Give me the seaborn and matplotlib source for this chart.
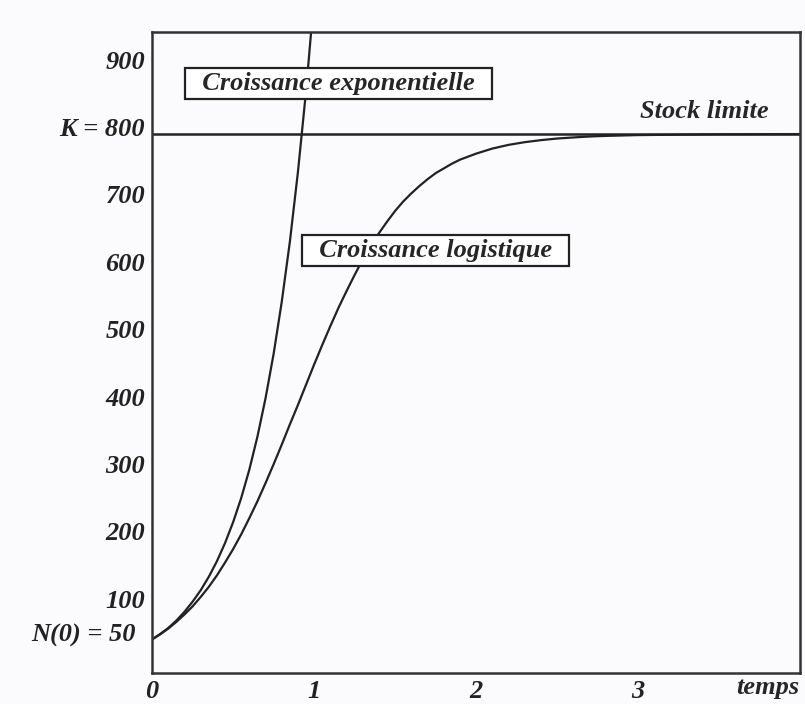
import matplotlib
matplotlib.use("Agg")
import matplotlib.pyplot as plt
import matplotlib.transforms as mtransforms
import seaborn as sns
import pandas as pd

# valeurs
t_exp = [0.0, 0.05, 0.1, 0.15, 0.2, 0.25, 0.3, 0.35, 0.4, 0.45, 0.5, 0.55, 0.6, 0.65,
         0.7, 0.75, 0.8, 0.85, 0.9, 0.95, 1.0]
n_exp = [50, 58, 67, 78, 91, 106, 123, 143, 166, 193, 224, 260, 302, 351,
         408, 474, 551, 640, 744, 864, 1004]

t_log = [0.0, 0.05, 0.1, 0.15, 0.2, 0.25, 0.3, 0.35, 0.4, 0.45, 0.5, 0.55, 0.6, 0.65,
         0.7, 0.75, 0.8, 0.85, 0.9, 0.95, 1.0, 1.05, 1.1, 1.15, 1.2, 1.25, 1.3, 1.35,
         1.4, 1.45, 1.5, 1.55, 1.6, 1.65, 1.7, 1.75, 1.8, 1.85, 1.9, 2.0, 2.1, 2.2,
         2.3, 2.4, 2.5, 2.6, 2.7, 2.8, 3.0, 3.5, 4.0]
n_log = [50, 57.5, 66, 76, 87, 99, 113, 128, 145, 164, 184, 206, 230, 255,
         282, 310, 339, 369, 398, 428, 458, 487, 515, 542, 567, 591, 614, 634,
         653, 670, 686, 700, 712, 723, 733, 742, 749, 756, 762, 771, 778.5, 784,
         788, 791, 793.4, 795, 796.4, 797.3, 798.5, 799.7, 800]

K = 800
y_ticks = [50, 100, 200, 300, 400, 500, 600, 700, 800, 900]
y_labels = ["N(0) = 50", "100", "200", "300", "400", "500", "600", "700", "K = 800", "900"]
x_ticks = [0, 1, 2, 3]

sns.set_style("white")
plt.rcParams['font.family'] = ['Liberation Serif', 'DejaVu Serif']
plt.rcParams['font.weight'] = 'bold'
plt.rcParams['font.style'] = 'italic'

FS = 19
bg = "#fbfbfd"
fig = plt.figure(figsize=(8.05, 7.04), dpi=100, facecolor=bg)
ax = fig.add_axes([0.189, 0.044, 0.805, 0.911])
ax.set_facecolor(bg)

df_exp = pd.DataFrame({"t": t_exp, "N": n_exp})
df_log = pd.DataFrame({"t": t_log, "N": n_log})
sns.lineplot(data=df_exp, x="t", y="N", ax=ax, color="#222222", lw=1.6)
sns.lineplot(data=df_log, x="t", y="N", ax=ax, color="#222222", lw=1.6)
ax.axhline(K, color="#222222", lw=1.8)

ax.set_xlim(0, 4)
ax.set_ylim(0, 952)
ax.set_xlabel("")
ax.set_ylabel("")

ax.set_yticks(y_ticks)
ax.set_yticklabels(y_labels)
ax.set_xticks(x_ticks)
ax.tick_params(axis='both', direction='inout', length=6, width=1.5,
               labelsize=FS, colors="#222222", pad=2)
ax.yaxis.get_major_ticks()[0].tick1line.set_visible(False)
shift = mtransforms.ScaledTranslation(0, 7 / 100, fig.dpi_scale_trans)
shift_n0 = mtransforms.ScaledTranslation(-9 / 100, 0, fig.dpi_scale_trans)
for i, lab in enumerate(ax.get_yticklabels()):
    tr = lab.get_transform() + shift
    if i == 0:
        tr = tr + shift_n0
    lab.set_transform(tr)
    lab.set_fontweight('bold')
    lab.set_fontstyle('italic')
for lab in ax.get_xticklabels():
    lab.set_fontweight('bold')
    lab.set_fontstyle('italic')

for s in ax.spines.values():
    s.set_color("#333333")
    s.set_linewidth(1.8)

box = dict(boxstyle='square,pad=0.15', fc='white', ec='#222222', lw=1.6)
ax.text(1.15, 875, "  Croissance exponentielle  ", ha='center', va='center',
        fontsize=FS, fontweight='bold', fontstyle='italic', bbox=box, zorder=5)
ax.text(1.75, 627, "  Croissance logistique  ", ha='center', va='center',
        fontsize=FS, fontweight='bold', fontstyle='italic', bbox=box, zorder=5)
ax.text(3.41, 834, "Stock limite", ha='center', va='center',
        fontsize=FS, fontweight='bold', fontstyle='italic')
ax.text(3.8, -4, "temps", ha='center', va='top', fontsize=FS,
        fontweight='bold', fontstyle='italic', clip_on=False)

fig.savefig("out.png", dpi=100, facecolor=bg)
